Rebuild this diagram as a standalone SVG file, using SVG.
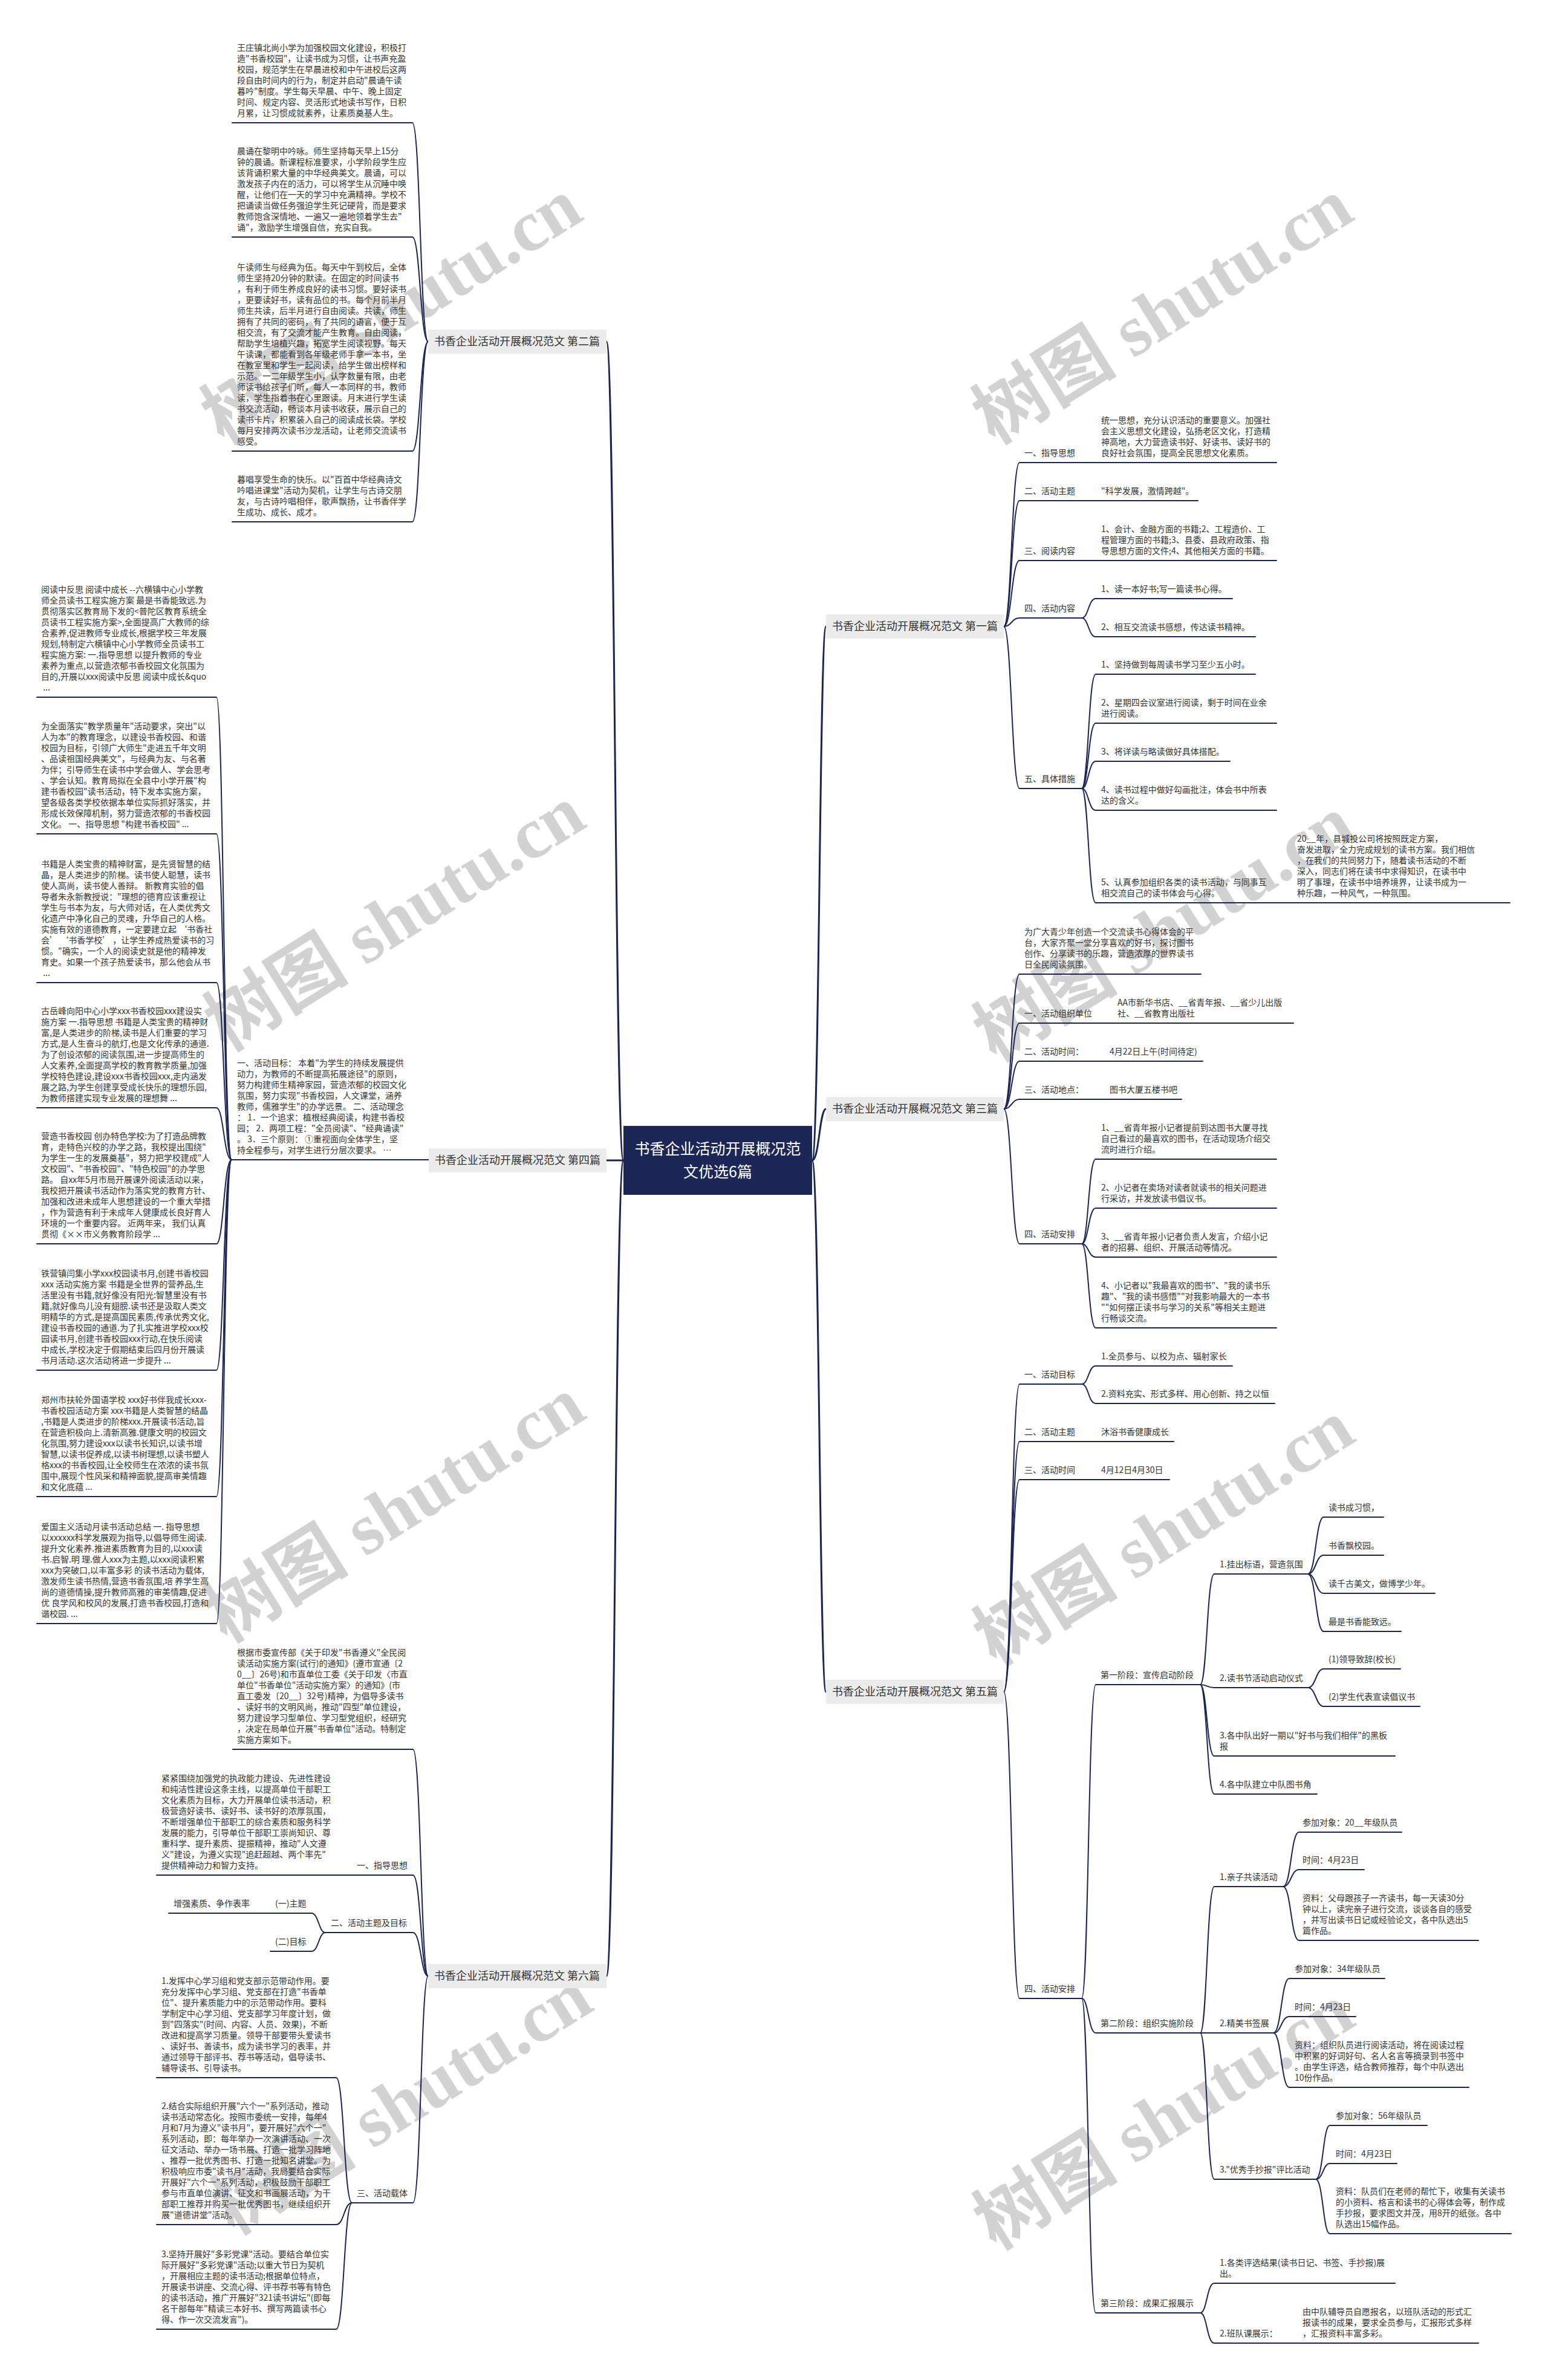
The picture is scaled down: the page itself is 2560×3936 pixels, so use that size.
<svg xmlns="http://www.w3.org/2000/svg" width="2560" height="3936" viewBox="0 0 2560 3936">
<style>
.t{font-family:"Noto Sans CJK SC","Noto Sans",sans-serif;font-size:14px;fill:#333}
.lbl{font-family:"Noto Sans CJK SC","Noto Sans",sans-serif;font-size:18px;fill:#333;text-anchor:middle}
.root{font-family:"Noto Sans CJK SC","Noto Sans",sans-serif;font-size:25px;fill:#fff;text-anchor:middle}
.ln{fill:none;stroke:#1b2452;stroke-width:2;stroke-linecap:round}
.br{fill:none;stroke:#1b2452;stroke-width:3;stroke-linecap:round}
.box{fill:#ececec}
.wm{font-family:"Liberation Serif","Noto Sans CJK SC",serif;font-size:120px;font-weight:bold;fill:#d2d2d2;text-anchor:middle}
</style>
<rect x="0" y="0" width="2560" height="3936" fill="#ffffff"/>
<g id="watermarks">
<text class="wm" transform="translate(648,515) rotate(-32)" dy="40">树图 shutu.cn</text>
<text class="wm" transform="translate(1923,515) rotate(-32)" dy="40">树图 shutu.cn</text>
<text class="wm" transform="translate(653,1519) rotate(-32)" dy="40">树图 shutu.cn</text>
<text class="wm" transform="translate(1925,1536) rotate(-32)" dy="40">树图 shutu.cn</text>
<text class="wm" transform="translate(653,2497) rotate(-32)" dy="40">树图 shutu.cn</text>
<text class="wm" transform="translate(1925,2535) rotate(-32)" dy="40">树图 shutu.cn</text>
<text class="wm" transform="translate(665,3476) rotate(-32)" dy="40">树图 shutu.cn</text>
<text class="wm" transform="translate(1925,3501) rotate(-32)" dy="40">树图 shutu.cn</text>
</g>
<g id="connectors">
<path class="br" d="M1343 1919 C1355 1919 1355 1036 1366 1036"/>
<path class="br" d="M1343 1919 C1355 1919 1355 1834 1366 1834"/>
<path class="br" d="M1343 1919 C1355 1919 1355 2798 1366 2798"/>
<path class="br" d="M1031 1919 C1017 1919 1017 565 1003 565"/>
<path class="br" d="M1031 1919 L1003 1919"/>
<path class="br" d="M1031 1919 C1017 1919 1017 3268 1003 3268"/>
<path class="ln" d="M1660 1036 C1673 1036 1673 765 1686 765 L2111 765"/>
<path class="ln" d="M1660 1036 C1673 1036 1673 828 1686 828 L1981 828"/>
<path class="ln" d="M1660 1036 C1673 1036 1673 927 1686 927 L2111 927"/>
<path class="ln" d="M1660 1036 C1673 1036 1673 1022 1686 1022 L1789 1022"/>
<path class="ln" d="M1660 1036 C1673 1036 1673 1304 1686 1304 L1789 1304"/>
<path class="ln" d="M1789 1022 C1800 1022 1800 990 1812 990 L2038 990"/>
<path class="ln" d="M1789 1022 C1800 1022 1800 1053 1812 1053 L2076 1053"/>
<path class="ln" d="M1789 1304 C1800 1304 1800 1115 1812 1115 L2076 1115"/>
<path class="ln" d="M1789 1304 C1800 1304 1800 1196 1812 1196 L2111 1196"/>
<path class="ln" d="M1789 1304 C1800 1304 1800 1259 1812 1259 L2034 1259"/>
<path class="ln" d="M1789 1304 C1800 1304 1800 1340 1812 1340 L2111 1340"/>
<path class="ln" d="M1789 1304 C1800 1304 1800 1493 1812 1493 L2497 1493"/>
<path class="ln" d="M1660 1834 C1673 1834 1673 1611 1686 1611 L1986 1611"/>
<path class="ln" d="M1660 1834 C1673 1834 1673 1692 1686 1692 L2139 1692"/>
<path class="ln" d="M1660 1834 C1673 1834 1673 1755 1686 1755 L1989 1755"/>
<path class="ln" d="M1660 1834 C1673 1834 1673 1818 1686 1818 L1954 1818"/>
<path class="ln" d="M1660 1834 C1673 1834 1673 2057 1686 2057 L1789 2057"/>
<path class="ln" d="M1789 2057 C1800 2057 1800 1917 1812 1917 L2111 1917"/>
<path class="ln" d="M1789 2057 C1800 2057 1800 1998 1812 1998 L2111 1998"/>
<path class="ln" d="M1789 2057 C1800 2057 1800 2079 1812 2079 L2111 2079"/>
<path class="ln" d="M1789 2057 C1800 2057 1800 2196 1812 2196 L2111 2196"/>
<path class="ln" d="M1660 2798 C1673 2798 1673 2289 1686 2289 L1789 2289"/>
<path class="ln" d="M1660 2798 C1673 2798 1673 2384 1686 2384 L1941 2384"/>
<path class="ln" d="M1660 2798 C1673 2798 1673 2447 1686 2447 L1934 2447"/>
<path class="ln" d="M1660 2798 C1673 2798 1673 3305 1686 3305 L1789 3305"/>
<path class="ln" d="M1789 2289 C1800 2289 1800 2259 1812 2259 L2038 2259"/>
<path class="ln" d="M1789 2289 C1800 2289 1800 2321 1812 2321 L2108 2321"/>
<path class="ln" d="M1789 3305 C1800 3305 1800 2786 1812 2786 L1985 2786"/>
<path class="ln" d="M1789 3305 C1800 3305 1800 3362 1812 3362 L1985 3362"/>
<path class="ln" d="M1789 3305 C1800 3305 1800 3825 1812 3825 L1985 3825"/>
<path class="ln" d="M1985 2786 C1996 2786 1996 2603 2008 2603 L2163 2603"/>
<path class="ln" d="M1985 2786 C1996 2786 1996 2791 2008 2791 L2163 2791"/>
<path class="ln" d="M1985 2786 C1996 2786 1996 2904 2008 2904 L2307 2904"/>
<path class="ln" d="M1985 2786 C1996 2786 1996 2967 2008 2967 L2178 2967"/>
<path class="ln" d="M2163 2603 C2176 2603 2176 2509 2189 2509 L2288 2509"/>
<path class="ln" d="M2163 2603 C2176 2603 2176 2572 2189 2572 L2288 2572"/>
<path class="ln" d="M2163 2603 C2176 2603 2176 2635 2189 2635 L2373 2635"/>
<path class="ln" d="M2163 2603 C2176 2603 2176 2698 2189 2698 L2317 2698"/>
<path class="ln" d="M2163 2791 C2176 2791 2176 2760 2189 2760 L2316 2760"/>
<path class="ln" d="M2163 2791 C2176 2791 2176 2822 2189 2822 L2348 2822"/>
<path class="ln" d="M1985 3362 C1996 3362 1996 3120 2008 3120 L2122 3120"/>
<path class="ln" d="M1985 3362 L2106 3362"/>
<path class="ln" d="M1985 3362 C1996 3362 1996 3604 2008 3604 L2176 3604"/>
<path class="ln" d="M2122 3120 C2135 3120 2135 3030 2148 3030 L2318 3030"/>
<path class="ln" d="M2122 3120 C2135 3120 2135 3092 2148 3092 L2256 3092"/>
<path class="ln" d="M2122 3120 C2135 3120 2135 3209 2148 3209 L2445 3209"/>
<path class="ln" d="M2106 3362 C2119 3362 2119 3272 2132 3272 L2290 3272"/>
<path class="ln" d="M2106 3362 C2119 3362 2119 3335 2132 3335 L2242 3335"/>
<path class="ln" d="M2106 3362 C2119 3362 2119 3452 2132 3452 L2429 3452"/>
<path class="ln" d="M2176 3604 C2188 3604 2188 3515 2199 3515 L2360 3515"/>
<path class="ln" d="M2176 3604 C2188 3604 2188 3578 2199 3578 L2310 3578"/>
<path class="ln" d="M2176 3604 C2188 3604 2188 3694 2199 3694 L2499 3694"/>
<path class="ln" d="M1985 3825 C1996 3825 1996 3776 2008 3776 L2307 3776"/>
<path class="ln" d="M1985 3825 C1996 3825 1996 3875 2008 3875 L2445 3875"/>
<path class="ln" d="M708 565 C695 565 695 203 682 203 L384 203"/>
<path class="ln" d="M708 565 C695 565 695 392 682 392 L384 392"/>
<path class="ln" d="M708 565 C695 565 695 746 682 746 L384 746"/>
<path class="ln" d="M708 565 C695 565 695 863 682 863 L384 863"/>
<path class="ln" d="M709 1918 L383 1918"/>
<path class="ln" d="M383 1918 C370 1918 370 1153 358 1153 L61 1153"/>
<path class="ln" d="M383 1918 C370 1918 370 1379 358 1379 L61 1379"/>
<path class="ln" d="M383 1918 C370 1918 370 1625 358 1625 L61 1625"/>
<path class="ln" d="M383 1918 C370 1918 370 1832 358 1832 L61 1832"/>
<path class="ln" d="M383 1918 C370 1918 370 2057 358 2057 L61 2057"/>
<path class="ln" d="M383 1918 C370 1918 370 2266 358 2266 L61 2266"/>
<path class="ln" d="M383 1918 C370 1918 370 2475 358 2475 L61 2475"/>
<path class="ln" d="M383 1918 C370 1918 370 2685 358 2685 L61 2685"/>
<path class="ln" d="M708 3268 C696 3268 696 2893 683 2893 L385 2893"/>
<path class="ln" d="M708 3268 C696 3268 696 3101 683 3101 L259 3101"/>
<path class="ln" d="M708 3268 C696 3268 696 3196 683 3196 L538 3196"/>
<path class="ln" d="M708 3268 C696 3268 696 3643 683 3643 L582 3643"/>
<path class="ln" d="M538 3196 C527 3196 527 3164 515 3164 L279 3164"/>
<path class="ln" d="M538 3196 C527 3196 527 3227 515 3227 L447 3227"/>
<path class="ln" d="M582 3643 C569 3643 569 3436 556 3436 L259 3436"/>
<path class="ln" d="M582 3643 C569 3643 569 3679 556 3679 L259 3679"/>
<path class="ln" d="M582 3643 C569 3643 569 3852 556 3852 L259 3852"/>
</g>
<g id="root">
<rect x="1031" y="1862" width="312" height="114" fill="#1c2657"/>
<text class="root" x="1187" y="1909">书香企业活动开展概况范</text>
<text class="root" x="1187" y="1947">文优选6篇</text>
</g>
<g id="label-1">
<rect class="box" x="1366" y="1016" width="294" height="40"/>
<text class="lbl" x="1513" y="1042">书香企业活动开展概况范文 第一篇</text>
</g>
<g id="label-3">
<rect class="box" x="1366" y="1814" width="294" height="40"/>
<text class="lbl" x="1513" y="1840">书香企业活动开展概况范文 第三篇</text>
</g>
<g id="label-5">
<rect class="box" x="1366" y="2778" width="294" height="40"/>
<text class="lbl" x="1513" y="2804">书香企业活动开展概况范文 第五篇</text>
</g>
<g id="label-2">
<rect class="box" x="708" y="545" width="295" height="40"/>
<text class="lbl" x="855" y="571">书香企业活动开展概况范文 第二篇</text>
</g>
<g id="label-4">
<rect class="box" x="709" y="1899" width="294" height="40"/>
<text class="lbl" x="856" y="1925">书香企业活动开展概况范文 第四篇</text>
</g>
<g id="label-6">
<rect class="box" x="708" y="3248" width="295" height="40"/>
<text class="lbl" x="855" y="3274">书香企业活动开展概况范文 第六篇</text>
</g>
<g id="article-1">
<text class="t" x="1694" y="754">一、指导思想</text>
<text class="t" y="700"><tspan x="1821">统一思想，充分认识活动的重要意义。加强社</tspan><tspan x="1821" dy="18">会主义思想文化建设，弘扬老区文化，打造精</tspan><tspan x="1821" dy="18">神高地，大力营造读书好、好读书、读好书的</tspan><tspan x="1821" dy="18">良好社会氛围，提高全民思想文化素质。</tspan></text>
<text class="t" x="1694" y="817">二、活动主题</text>
<text class="t" x="1821" y="817">"科学发展，激情跨越"。</text>
<text class="t" x="1694" y="916">三、阅读内容</text>
<text class="t" y="880"><tspan x="1821">1、会计、金融方面的书籍;2、工程造价、工</tspan><tspan x="1821" dy="18">程管理方面的书籍;3、县委、县政府政策、指</tspan><tspan x="1821" dy="18">导思想方面的文件;4、其他相关方面的书籍。</tspan></text>
<text class="t" x="1694" y="1011">四、活动内容</text>
<text class="t" x="1821" y="979">1、读一本好书;写一篇读书心得。</text>
<text class="t" x="1821" y="1042">2、相互交流读书感想，传达读书精神。</text>
<text class="t" x="1694" y="1293">五、具体措施</text>
<text class="t" x="1821" y="1104">1、坚持做到每周读书学习至少五小时。</text>
<text class="t" y="1167"><tspan x="1821">2、星期四会议室进行阅读，剩于时间在业余</tspan><tspan x="1821" dy="18">进行阅读。</tspan></text>
<text class="t" x="1821" y="1248">3、将详读与略读做好具体搭配。</text>
<text class="t" y="1311"><tspan x="1821">4、读书过程中做好勾画批注，体会书中所表</tspan><tspan x="1821" dy="18">达的含义。</tspan></text>
<text class="t" y="1464"><tspan x="1821">5、认真参加组织各类的读书活动，与同事互</tspan><tspan x="1821" dy="18">相交流自己的读书体会与心得。</tspan></text>
<text class="t" y="1392"><tspan x="2145">20__年，县城投公司将按照既定方案，</tspan><tspan x="2145" dy="18">奋发进取，全力完成规划的读书方案。我们相信</tspan><tspan x="2145" dy="18">，在我们的共同努力下，随着读书活动的不断</tspan><tspan x="2145" dy="18">深入，同志们将在读书中求得知识，在读书中</tspan><tspan x="2145" dy="18">明了事理，在读书中培养境界，让读书成为一</tspan><tspan x="2145" dy="18">种乐趣，一种风气，一种氛围。</tspan></text>
</g>
<g id="article-3">
<text class="t" y="1546"><tspan x="1694">为广大青少年创造一个交流读书心得体会的平</tspan><tspan x="1694" dy="18">台，大家齐聚一堂分享喜欢的好书，探讨图书</tspan><tspan x="1694" dy="18">创作、分享读书的乐趣，营造浓厚的世界读书</tspan><tspan x="1694" dy="18">日全民阅读氛围。</tspan></text>
<text class="t" x="1694" y="1681">一、活动组织单位</text>
<text class="t" y="1663"><tspan x="1848">AA市新华书店、__省青年报、__省少儿出版</tspan><tspan x="1848" dy="18">社、__省教育出版社</tspan></text>
<text class="t" x="1694" y="1744">二、活动时间：</text>
<text class="t" x="1835" y="1744">4月22日上午(时间待定)</text>
<text class="t" x="1694" y="1807">三、活动地点：</text>
<text class="t" x="1835" y="1807">图书大厦五楼书吧</text>
<text class="t" x="1694" y="2046">四、活动安排</text>
<text class="t" y="1870"><tspan x="1821">1、__省青年报小记者提前到达图书大厦寻找</tspan><tspan x="1821" dy="18">自己看过的最喜欢的图书，在活动现场介绍交</tspan><tspan x="1821" dy="18">流时进行介绍。</tspan></text>
<text class="t" y="1969"><tspan x="1821">2、小记者在卖场对读者就读书的相关问题进</tspan><tspan x="1821" dy="18">行采访，并发放读书倡议书。</tspan></text>
<text class="t" y="2050"><tspan x="1821">3、__省青年报小记者负责人发言，介绍小记</tspan><tspan x="1821" dy="18">者的招募、组织、开展活动等情况。</tspan></text>
<text class="t" y="2131"><tspan x="1821">4、小记者以"我最喜欢的图书"、"我的读书乐</tspan><tspan x="1821" dy="18">趣"、"我的读书感悟""对我影响最大的一本书</tspan><tspan x="1821" dy="18">""如何摆正读书与学习的关系"等相关主题进</tspan><tspan x="1821" dy="18">行畅谈交流。</tspan></text>
</g>
<g id="article-5">
<text class="t" x="1694" y="2278">一、活动目标</text>
<text class="t" x="1821" y="2248">1.全员参与、以校为点、辐射家长</text>
<text class="t" x="1821" y="2310">2.资料充实、形式多样、用心创新、持之以恒</text>
<text class="t" x="1694" y="2373">二、活动主题</text>
<text class="t" x="1821" y="2373">沐浴书香健康成长</text>
<text class="t" x="1694" y="2436">三、活动时间</text>
<text class="t" x="1821" y="2436">4月12日4月30日</text>
<text class="t" x="1694" y="3294">四、活动安排</text>
<text class="t" x="1820" y="2775">第一阶段：宣传启动阶段</text>
<text class="t" x="2017" y="2592">1.挂出标语，营造氛围</text>
<text class="t" x="2197" y="2498">读书成习惯，</text>
<text class="t" x="2197" y="2561">书香飘校园。</text>
<text class="t" x="2197" y="2624">读千古美文，做博学少年。</text>
<text class="t" x="2197" y="2687">最是书香能致远。</text>
<text class="t" x="2017" y="2780">2.读书节活动启动仪式</text>
<text class="t" x="2197" y="2749">(1)领导致辞(校长)</text>
<text class="t" x="2197" y="2811">(2)学生代表宣读倡议书</text>
<text class="t" y="2875"><tspan x="2017">3.各中队出好一期以"好书与我们相伴"的黑板</tspan><tspan x="2017" dy="18">报</tspan></text>
<text class="t" x="2017" y="2956">4.各中队建立中队图书角</text>
<text class="t" x="1820" y="3351">第二阶段：组织实施阶段</text>
<text class="t" x="2017" y="3109">1.亲子共读活动</text>
<text class="t" x="2154" y="3019">参加对象：20__年级队员</text>
<text class="t" x="2154" y="3081">时间：4月23日</text>
<text class="t" y="3144"><tspan x="2154">资料：父母跟孩子一齐读书，每一天读30分</tspan><tspan x="2154" dy="18">钟以上，读完亲子进行交流，谈谈各自的感受</tspan><tspan x="2154" dy="18">，并写出读书日记或经验论文，各中队选出5</tspan><tspan x="2154" dy="18">篇作品。</tspan></text>
<text class="t" x="2017" y="3351">2.精美书签展</text>
<text class="t" x="2141" y="3261">参加对象：34年级队员</text>
<text class="t" x="2141" y="3324">时间：4月23日</text>
<text class="t" y="3387"><tspan x="2141">资料：组织队员进行阅读活动，将在阅读过程</tspan><tspan x="2141" dy="18">中积累的好词好句、名人名言等摘录到书签中</tspan><tspan x="2141" dy="18">。由学生评选，结合教师推荐，每个中队选出</tspan><tspan x="2141" dy="18">10份作品。</tspan></text>
<text class="t" x="2017" y="3593">3."优秀手抄报"评比活动</text>
<text class="t" x="2209" y="3504">参加对象：56年级队员</text>
<text class="t" x="2209" y="3567">时间：4月23日</text>
<text class="t" y="3629"><tspan x="2209">资料：队员们在老师的帮忙下，收集有关读书</tspan><tspan x="2209" dy="18">的小资料、格言和读书的心得体会等，制作成</tspan><tspan x="2209" dy="18">手抄报，要求图文并茂，用8开的纸张。各中</tspan><tspan x="2209" dy="18">队选出15幅作品。</tspan></text>
<text class="t" x="1820" y="3814">第三阶段：成果汇报展示</text>
<text class="t" y="3747"><tspan x="2017">1.各类评选结果(读书日记、书签、手抄报)展</tspan><tspan x="2017" dy="18">出。</tspan></text>
<text class="t" x="2017" y="3864">2.班队课展示：</text>
<text class="t" y="3828"><tspan x="2154">由中队辅导员自愿报名，以班队活动的形式汇</tspan><tspan x="2154" dy="18">报读书的成果，要求全员参与，汇报形式多样</tspan><tspan x="2154" dy="18">，汇报资料丰富多彩。</tspan></text>
</g>
<g id="article-2">
<text class="t" y="84"><tspan x="392">王庄镇北尚小学为加强校园文化建设，积极打</tspan><tspan x="392" dy="18">造"书香校园"，让读书成为习惯，让书声充盈</tspan><tspan x="392" dy="18">校园，规范学生在早晨进校和中午进校后这两</tspan><tspan x="392" dy="18">段自由时间内的行为，制定并启动"晨诵午读</tspan><tspan x="392" dy="18">暮吟"制度。学生每天早晨、中午、晚上固定</tspan><tspan x="392" dy="18">时间、规定内容、灵活形式地读书写作，日积</tspan><tspan x="392" dy="18">月累，让习惯成就素养，让素质奠基人生。</tspan></text>
<text class="t" y="255"><tspan x="392">晨诵在黎明中吟咏。师生坚持每天早上15分</tspan><tspan x="392" dy="18">钟的晨诵。新课程标准要求，小学阶段学生应</tspan><tspan x="392" dy="18">该背诵积累大量的中华经典美文。晨诵，可以</tspan><tspan x="392" dy="18">激发孩子内在的活力，可以将学生从沉睡中唤</tspan><tspan x="392" dy="18">醒，让他们在一天的学习中充满精神。学校不</tspan><tspan x="392" dy="18">把诵读当做任务强迫学生死记硬背，而是要求</tspan><tspan x="392" dy="18">教师饱含深情地、一遍又一遍地领着学生去"</tspan><tspan x="392" dy="18">诵"，激励学生增强自信，充实自我。</tspan></text>
<text class="t" y="447"><tspan x="392">午读师生与经典为伍。每天中午到校后，全体</tspan><tspan x="392" dy="18">师生坚持20分钟的默读。在固定的时间读书</tspan><tspan x="392" dy="18">，有利于师生养成良好的读书习惯。要好读书</tspan><tspan x="392" dy="18">，更要读好书，读有品位的书。每个月前半月</tspan><tspan x="392" dy="18">师生共读，后半月进行自由阅读。共读，师生</tspan><tspan x="392" dy="18">拥有了共同的密码，有了共同的语言，便于互</tspan><tspan x="392" dy="18">相交流，有了交流才能产生教育。自由阅读，</tspan><tspan x="392" dy="18">帮助学生培植兴趣，拓宽学生阅读视野。每天</tspan><tspan x="392" dy="18">午读课，都能看到各年级老师手拿一本书，坐</tspan><tspan x="392" dy="18">在教室里和学生一起阅读，给学生做出榜样和</tspan><tspan x="392" dy="18">示范。一二年级学生小，认字数量有限，由老</tspan><tspan x="392" dy="18">师读书给孩子们听，每人一本同样的书，教师</tspan><tspan x="392" dy="18">读，学生指着书在心里跟读。月末进行学生读</tspan><tspan x="392" dy="18">书交流活动，畅谈本月读书收获，展示自己的</tspan><tspan x="392" dy="18">读书卡片，积累装入自己的阅读成长袋。学校</tspan><tspan x="392" dy="18">每月安排两次读书沙龙活动，让老师交流读书</tspan><tspan x="392" dy="18">感受。</tspan></text>
<text class="t" y="798"><tspan x="392">暮唱享受生命的快乐。以"百首中华经典诗文</tspan><tspan x="392" dy="18">吟唱进课堂"活动为契机，让学生与古诗交朋</tspan><tspan x="392" dy="18">友，与古诗吟唱相伴，歌声飘扬，让书香伴学</tspan><tspan x="392" dy="18">生成功、成长、成才。</tspan></text>
</g>
<g id="article-4">
<text class="t" y="1763"><tspan x="392">一、活动目标： 本着"为学生的持续发展提供</tspan><tspan x="392" dy="18">动力，为教师的不断提高拓展途径"的原则，</tspan><tspan x="392" dy="18">努力构建师生精神家园，营造浓郁的校园文化</tspan><tspan x="392" dy="18">氛围，努力实现"书香校园，人文课堂，涵养</tspan><tspan x="392" dy="18">教师，儒雅学生"的办学远景。 二、活动理念</tspan><tspan x="392" dy="18">： 1．一个追求：植根经典阅读，构建书香校</tspan><tspan x="392" dy="18">园； 2．两项工程："全员阅读"、"经典诵读"</tspan><tspan x="392" dy="18">。 3．三个原则： ①重视面向全体学生，坚</tspan><tspan x="392" dy="18">持全程参与，对学生进行分层次要求。 …</tspan></text>
<text class="t" y="980"><tspan x="68">阅读中反思 阅读中成长 --六横镇中心小学教</tspan><tspan x="68" dy="18">师全员读书工程实施方案 最是书香能致远.为</tspan><tspan x="68" dy="18">贯彻落实区教育局下发的&lt;普陀区教育系统全</tspan><tspan x="68" dy="18">员读书工程实施方案&gt;,全面提高广大教师的综</tspan><tspan x="68" dy="18">合素养,促进教师专业成长,根据学校三年发展</tspan><tspan x="68" dy="18">规划,特制定六横镇中心小学教师全员读书工</tspan><tspan x="68" dy="18">程实施方案: 一.指导思想 以提升教师的专业</tspan><tspan x="68" dy="18">素养为重点,以营造浓郁书香校园文化氛围为</tspan><tspan x="68" dy="18">目的,开展以xxx阅读中反思 阅读中成长&amp;quo</tspan><tspan x="68" dy="18"> ...</tspan></text>
<text class="t" y="1206"><tspan x="68">为全面落实"教学质量年"活动要求，突出"以</tspan><tspan x="68" dy="18">人为本"的教育理念，以建设书香校园、和谐</tspan><tspan x="68" dy="18">校园为目标，引领广大师生"走进五千年文明</tspan><tspan x="68" dy="18">、品读祖国经典美文"，与经典为友、与名著</tspan><tspan x="68" dy="18">为伴；引导师生在读书中学会做人、学会思考</tspan><tspan x="68" dy="18">、学会认知。教育局拟在全县中小学开展"构</tspan><tspan x="68" dy="18">建书香校园"读书活动，特下发本实施方案，</tspan><tspan x="68" dy="18">望各级各类学校依据本单位实际抓好落实，并</tspan><tspan x="68" dy="18">形成长效保障机制，努力营造浓郁的书香校园</tspan><tspan x="68" dy="18">文化。 一、指导思想 "构建书香校园" ...</tspan></text>
<text class="t" y="1434"><tspan x="68">书籍是人类宝贵的精神财富，是先贤智慧的结</tspan><tspan x="68" dy="18">晶，是人类进步的阶梯。读书使人聪慧，读书</tspan><tspan x="68" dy="18">使人高尚，读书使人善辩。 新教育实验的倡</tspan><tspan x="68" dy="18">导者朱永新教授说："理想的德育应该重视让</tspan><tspan x="68" dy="18">学生与书本为友，与大师对话，在人类优秀文</tspan><tspan x="68" dy="18">化遗产中净化自己的灵魂，升华自己的人格。</tspan><tspan x="68" dy="18">实施有效的道德教育，一定要建立起 ‘书香社</tspan><tspan x="68" dy="18">会’ ‘书香学校’ ，让学生养成热爱读书的习</tspan><tspan x="68" dy="18">惯。"确实，一个人的阅读史就是他的精神发</tspan><tspan x="68" dy="18">育史。如果一个孩子热爱读书，那么他会从书</tspan><tspan x="68" dy="18"> ...</tspan></text>
<text class="t" y="1677"><tspan x="68">古岳峰向阳中心小学xxx书香校园xxx建设实</tspan><tspan x="68" dy="18">施方案 一.指导思想 书籍是人类宝贵的精神财</tspan><tspan x="68" dy="18">富,是人类进步的阶梯,读书是人们重要的学习</tspan><tspan x="68" dy="18">方式,是人生奋斗的航灯,也是文化传承的通道.</tspan><tspan x="68" dy="18">为了创设浓郁的阅读氛围,进一步提高师生的</tspan><tspan x="68" dy="18">人文素养,全面提高学校的教育教学质量,加强</tspan><tspan x="68" dy="18">学校特色建设,建设xxx书香校园xxx,走内涵发</tspan><tspan x="68" dy="18">展之路,为学生创建享受成长快乐的理想乐园,</tspan><tspan x="68" dy="18">为教师搭建实现专业发展的理想舞 ...</tspan></text>
<text class="t" y="1884"><tspan x="68">营造书香校园 创办特色学校:为了打造品牌教</tspan><tspan x="68" dy="18">育，走特色兴校的办学之路，我校提出围绕"</tspan><tspan x="68" dy="18">为学生一生的发展奠基"，努力把学校建成"人</tspan><tspan x="68" dy="18">文校园"、"书香校园"、"特色校园"的办学思</tspan><tspan x="68" dy="18">路。 自xx年5月市局开展课外阅读活动以来，</tspan><tspan x="68" dy="18">我校把开展读书活动作为落实党的教育方针、</tspan><tspan x="68" dy="18">加强和改进未成年人思想建设的一个重大举措</tspan><tspan x="68" dy="18">，作为营造有利于未成年人健康成长良好育人</tspan><tspan x="68" dy="18">环境的一个重要内容。 近两年来， 我们认真</tspan><tspan x="68" dy="18">贯彻《××市义务教育阶段学 ...</tspan></text>
<text class="t" y="2111"><tspan x="68">铁营镇闫集小学xxx校园读书月,创建书香校园</tspan><tspan x="68" dy="18">xxx 活动实施方案 书籍是全世界的营养品,生</tspan><tspan x="68" dy="18">活里没有书籍,就好像没有阳光:智慧里没有书</tspan><tspan x="68" dy="18">籍,就好像鸟儿没有翅膀.读书还是汲取人类文</tspan><tspan x="68" dy="18">明精华的方式,是提高国民素质,传承优秀文化,</tspan><tspan x="68" dy="18">建设书香校园的通道.为了扎实推进学校xxx校</tspan><tspan x="68" dy="18">园读书月,创建书香校园xxx行动,在快乐阅读</tspan><tspan x="68" dy="18">中成长,学校决定于假期结束后四月份开展读</tspan><tspan x="68" dy="18">书月活动.这次活动将进一步提升 ...</tspan></text>
<text class="t" y="2320"><tspan x="68">郑州市扶轮外国语学校 xxx好书伴我成长xxx-</tspan><tspan x="68" dy="18">书香校园活动方案 xxx书籍是人类智慧的结晶</tspan><tspan x="68" dy="18">,书籍是人类进步的阶梯xxx.开展读书活动,旨</tspan><tspan x="68" dy="18">在营造积极向上.清新高雅.健康文明的校园文</tspan><tspan x="68" dy="18">化氛围,努力建设xxx以读书长知识,以读书增</tspan><tspan x="68" dy="18">智慧,以读书促养成,以读书树理想,以读书塑人</tspan><tspan x="68" dy="18">格xxx的书香校园,让全校师生在浓浓的读书氛</tspan><tspan x="68" dy="18">围中,展现个性风采和精神面貌,提高审美情趣</tspan><tspan x="68" dy="18">和文化底蕴 ...</tspan></text>
<text class="t" y="2530"><tspan x="68">爱国主义活动月读书活动总结 一. 指导思想</tspan><tspan x="68" dy="18">以xxxxxx科学发展观为指导,以倡导师生阅读.</tspan><tspan x="68" dy="18">提升文化素养.推进素质教育为目的,以xxx读</tspan><tspan x="68" dy="18">书.启智.明 理.做人xxx为主题,以xxx阅读积累</tspan><tspan x="68" dy="18">xxx为突破口,以丰富多彩 的读书活动为载体,</tspan><tspan x="68" dy="18">激发师生读书热情,营造书香氛围,培 养学生高</tspan><tspan x="68" dy="18">尚的道德情操,提升教师高雅的审美情趣,促进</tspan><tspan x="68" dy="18">优 良学风和校风的发展,打造书香校园,打造和</tspan><tspan x="68" dy="18">谐校园. ...</tspan></text>
</g>
<g id="article-6">
<text class="t" y="2738"><tspan x="392">根据市委宣传部《关于印发"书香遵义"全民阅</tspan><tspan x="392" dy="18">读活动实施方案(试行)的通知》(遵市宣通〔2</tspan><tspan x="392" dy="18">0__〕26号)和市直单位工委《关于印发〈市直</tspan><tspan x="392" dy="18">单位"书香单位"活动实施方案〉的通知》(市</tspan><tspan x="392" dy="18">直工委发〔20__〕32号)精神，为倡导多读书</tspan><tspan x="392" dy="18">、读好书的文明风尚，推动"四型"单位建设，</tspan><tspan x="392" dy="18">努力建设学习型单位、学习型党组织，经研究</tspan><tspan x="392" dy="18">，决定在局单位开展"书香单位"活动。特制定</tspan><tspan x="392" dy="18">实施方案如下。</tspan></text>
<text class="t" x="590" y="3090">一、指导思想</text>
<text class="t" y="2946"><tspan x="267">紧紧围绕加强党的执政能力建设、先进性建设</tspan><tspan x="267" dy="18">和纯洁性建设这条主线，以提高单位干部职工</tspan><tspan x="267" dy="18">文化素质为目标，大力开展单位读书活动，积</tspan><tspan x="267" dy="18">极营造好读书、读好书、读书好的浓厚氛围，</tspan><tspan x="267" dy="18">不断增强单位干部职工的综合素质和服务科学</tspan><tspan x="267" dy="18">发展的能力，引导单位干部职工崇尚知识、尊</tspan><tspan x="267" dy="18">重科学、提升素质、提振精神，推动"人文遵</tspan><tspan x="267" dy="18">义"建设，为遵义实现"追赶超越、两个率先"</tspan><tspan x="267" dy="18">提供精神动力和智力支持。</tspan></text>
<text class="t" x="547" y="3185">二、活动主题及目标</text>
<text class="t" x="455" y="3153">(一)主题</text>
<text class="t" x="287" y="3153">增强素质、争作表率</text>
<text class="t" x="455" y="3216">(二)目标</text>
<text class="t" x="590" y="3632">三、活动载体</text>
<text class="t" y="3281"><tspan x="267">1.发挥中心学习组和党支部示范带动作用。要</tspan><tspan x="267" dy="18">充分发挥中心学习组、党支部在打造"书香单</tspan><tspan x="267" dy="18">位"、提升素质能力中的示范带动作用。要科</tspan><tspan x="267" dy="18">学制定中心学习组、党支部学习年度计划，做</tspan><tspan x="267" dy="18">到"四落实"(时间、内容、人员、效果)，不断</tspan><tspan x="267" dy="18">改进和提高学习质量。领导干部要带头爱读书</tspan><tspan x="267" dy="18">、读好书、善读书，成为读书学习的表率，并</tspan><tspan x="267" dy="18">通过领导干部评书、荐书等活动，倡导读书、</tspan><tspan x="267" dy="18">辅导读书、引导读书。</tspan></text>
<text class="t" y="3488"><tspan x="267">2.结合实际组织开展"六个一"系列活动，推动</tspan><tspan x="267" dy="18">读书活动常态化。按照市委统一安排，每年4</tspan><tspan x="267" dy="18">月和7月为遵义"读书月"，要开展好"六个一"</tspan><tspan x="267" dy="18">系列活动，即：每年举办一次演讲活动、一次</tspan><tspan x="267" dy="18">征文活动、举办一场书展、打造一批学习阵地</tspan><tspan x="267" dy="18">、推荐一批优秀图书、打造一批知名讲堂。为</tspan><tspan x="267" dy="18">积极响应市委"读书月"活动，我局要结合实际</tspan><tspan x="267" dy="18">开展好"六个一"系列活动，积极鼓励干部职工</tspan><tspan x="267" dy="18">参与市直单位演讲、征文和书画展活动，为干</tspan><tspan x="267" dy="18">部职工推荐并购买一批优秀图书，继续组织开</tspan><tspan x="267" dy="18">展"道德讲堂"活动。</tspan></text>
<text class="t" y="3733"><tspan x="267">3.坚持开展好"多彩党课"活动。要结合单位实</tspan><tspan x="267" dy="18">际开展好"多彩党课"活动;以重大节日为契机</tspan><tspan x="267" dy="18">，开展相应主题的读书活动;根据单位特点，</tspan><tspan x="267" dy="18">开展读书讲座、交流心得、评书荐书等有特色</tspan><tspan x="267" dy="18">的读书活动，推广开展好"321读书讲坛"(即每</tspan><tspan x="267" dy="18">名干部每年"精读三本好书、撰写两篇读书心</tspan><tspan x="267" dy="18">得、作一次交流发言")。</tspan></text>
</g>
</svg>
